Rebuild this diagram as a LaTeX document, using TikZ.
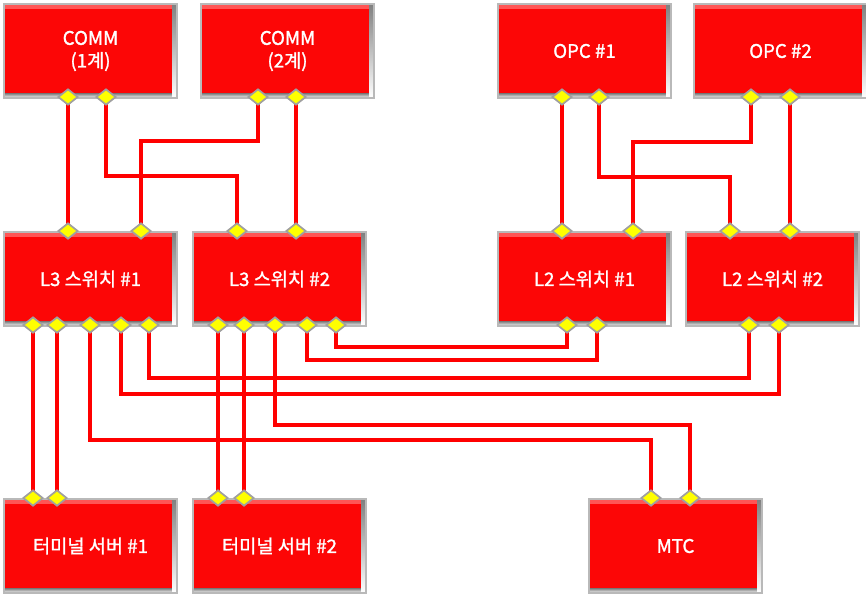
\documentclass[tikz,border=0pt]{standalone}
\usepackage{fontspec}
\setmainfont{Noto Sans CJK KR}
\newfontfamily\boxfont{Noto Sans CJK KR}[FakeBold=1.4]
\usetikzlibrary{shapes.geometric}
\definecolor{boxred}{RGB}{252,6,6}
\definecolor{hilite}{RGB}{255,85,85}
\definecolor{shade}{RGB}{160,0,0}
\definecolor{rim}{RGB}{185,185,185}
\definecolor{portfill}{RGB}{255,255,0}
\definecolor{portrim}{RGB}{160,160,160}
\definecolor{wirecol}{RGB}{255,0,0}
\tikzset{
 unitbox/.style={draw=rim, line width=1.5pt, fill=boxred, minimum width=129.75pt, minimum height=70.5pt,
  anchor=north west, inner sep=0pt, text=white, font=\boxfont\fontsize{14}{17}\selectfont, align=center,
  path picture={
   \fill[hilite] (path picture bounding box.north west) rectangle ([yshift=-3.5pt]path picture bounding box.north east);
   \fill[shade] (path picture bounding box.south west) rectangle ([yshift=3.5pt]path picture bounding box.south east);
   \fill[shade] ([xshift=-3.5pt]path picture bounding box.south east) rectangle (path picture bounding box.north east);
  }},
 port/.style={shape=diamond, draw=portrim, fill=portfill, line width=1.3pt, minimum width=15pt, minimum height=12pt, inner sep=0pt},
 wire/.style={draw=wirecol, line width=3pt},
}
\begin{document}
\begin{tikzpicture}[x=0.75pt,y=-0.75pt]
\useasboundingbox (0,0) rectangle (866,596);
% boxes
\node[unitbox] (c1) at (3,3) {COMM\\(1계)};
\node[unitbox] (c2) at (200,3) {COMM\\(2계)};
\node[unitbox] (o1) at (497,3) {OPC \#1};
\node[unitbox] (o2) at (693,3) {OPC \#2};
\node[unitbox] (s1) at (3,231) {L3 스위치 \#1};
\node[unitbox] (s2) at (192,231) {L3 스위치 \#2};
\node[unitbox] (l1) at (497,231) {L2 스위치 \#1};
\node[unitbox] (l2) at (685,231) {L2 스위치 \#2};
\node[unitbox] (t1) at (3,498) {터미널 서버 \#1};
\node[unitbox] (t2) at (192,498) {터미널 서버 \#2};
\node[unitbox] (m) at (588,498) {MTC};
% ports
\coordinate (c1a) at (68,97);  \coordinate (c1b) at (106,97);
\coordinate (c2a) at (258,97); \coordinate (c2b) at (296,97);
\coordinate (o1a) at (562,97); \coordinate (o1b) at (599,97);
\coordinate (o2a) at (751,97); \coordinate (o2b) at (790,97);
\coordinate (s1ta) at (68,231);  \coordinate (s1tb) at (141,231);
\coordinate (s2ta) at (237,231); \coordinate (s2tb) at (296,231);
\coordinate (l1ta) at (562,231); \coordinate (l1tb) at (633,231);
\coordinate (l2ta) at (730,231); \coordinate (l2tb) at (790,231);
\coordinate (s1ba) at (33,325); \coordinate (s1bb) at (57,325); \coordinate (s1bc) at (90,325); \coordinate (s1bd) at (121,325); \coordinate (s1be) at (149,325);
\coordinate (s2ba) at (218,325); \coordinate (s2bb) at (244,325); \coordinate (s2bc) at (275,325); \coordinate (s2bd) at (307,325); \coordinate (s2be) at (336,325);
\coordinate (l1ba) at (567,325); \coordinate (l1bb) at (597,325);
\coordinate (l2ba) at (749,325); \coordinate (l2bb) at (779,325);
\coordinate (t1a) at (33,498); \coordinate (t1b) at (57,498);
\coordinate (t2a) at (218,498); \coordinate (t2b) at (244,498);
\coordinate (ma) at (651,498); \coordinate (mb) at (690,498);
% routing rows
\coordinate (r141) at (0,141); \coordinate (r142) at (0,142);
\coordinate (r176) at (0,176); \coordinate (r177) at (0,177);
\coordinate (r347) at (0,347); \coordinate (r360) at (0,360);
\coordinate (r378) at (0,378); \coordinate (r394) at (0,394);
\coordinate (r425) at (0,425); \coordinate (r440) at (0,440);
% wires
\draw[wire] (c1a) -- (s1ta);
\draw[wire] (c1b) -- (c1b |- r176) -| (s2ta);
\draw[wire] (c2a) -- (c2a |- r141) -| (s1tb);
\draw[wire] (c2b) -- (s2tb);
\draw[wire] (o1a) -- (l1ta);
\draw[wire] (o1b) -- (o1b |- r177) -| (l2ta);
\draw[wire] (o2a) -- (o2a |- r142) -| (l1tb);
\draw[wire] (o2b) -- (l2tb);
\draw[wire] (s2be) -- (s2be |- r347) -| (l1ba);
\draw[wire] (s2bd) -- (s2bd |- r360) -| (l1bb);
\draw[wire] (s1be) -- (s1be |- r378) -| (l2ba);
\draw[wire] (s1bd) -- (s1bd |- r394) -| (l2bb);
\draw[wire] (s1bc) -- (s1bc |- r440) -| (ma);
\draw[wire] (s2bc) -- (s2bc |- r425) -| (mb);
\draw[wire] (s1ba) -- (t1a);
\draw[wire] (s1bb) -- (t1b);
\draw[wire] (s2ba) -- (t2a);
\draw[wire] (s2bb) -- (t2b);
% port diamonds
\foreach \p in {c1a,c1b,c2a,c2b,o1a,o1b,o2a,o2b,s1ta,s1tb,s2ta,s2tb,l1ta,l1tb,l2ta,l2tb,
  s1ba,s1bb,s1bc,s1bd,s1be,s2ba,s2bb,s2bc,s2bd,s2be,l1ba,l1bb,l2ba,l2bb,t1a,t1b,t2a,t2b,ma,mb}
  \node[port] (d\p) at (\p) {};
\end{tikzpicture}
\end{document}
